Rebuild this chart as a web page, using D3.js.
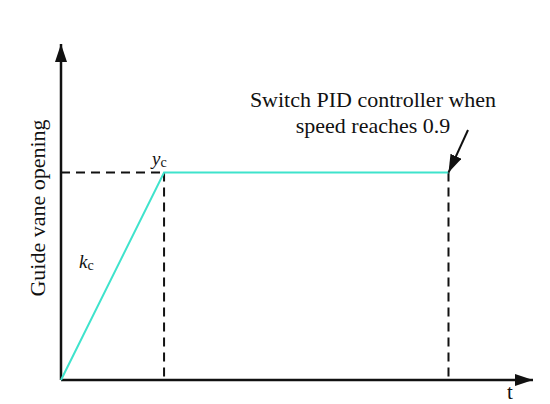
<!DOCTYPE html>
<html>
<head>
<meta charset="utf-8">
<script src="https://cdn.jsdelivr.net/npm/d3@7"></script>
<style>
  body { margin: 0; background: #fff; }
</style>
</head>
<body>
<svg id="chart" width="550" height="404"></svg>
<script>
// control curve: guide vane opening vs time (arbitrary units)
const tPoints = [0, 1, 3.76];
const openPoints = [0, 1, 1];
const switchT = 3.76;        // time when PID takes over
const tMax = 4.58, yMax = 1.62;

const width = 550, height = 404;
const origin = {x: 61, y: 380};

const x = d3.scaleLinear().domain([0, tMax]).range([origin.x, 533]);
const y = d3.scaleLinear().domain([0, yMax]).range([origin.y, 44]);

const svg = d3.select("#chart")
    .attr("font-family", "'Liberation Serif', 'Times New Roman', serif")
    .attr("fill", "#111");

svg.append("defs").append("marker")
    .attr("id", "head")
    .attr("viewBox", "0 0 18 12")
    .attr("refX", 18).attr("refY", 6)
    .attr("markerWidth", 18).attr("markerHeight", 12)
    .attr("markerUnits", "userSpaceOnUse")
    .attr("orient", "auto")
  .append("path")
    .attr("d", "M0,0 L18,6 L0,12 Z")
    .attr("fill", "#111");

// dashed guides
const dash = svg.append("g")
    .attr("stroke", "#111")
    .attr("stroke-width", 2)
    .attr("stroke-dasharray", "9,6")
    .attr("fill", "none");
dash.append("line")
    .attr("x1", x(0)).attr("x2", x(tPoints[1]))
    .attr("y1", y(openPoints[1])).attr("y2", y(openPoints[1]));
dash.append("line")
    .attr("x1", x(tPoints[1])).attr("x2", x(tPoints[1]))
    .attr("y1", y(openPoints[1])).attr("y2", y(0));
dash.append("line")
    .attr("x1", x(switchT)).attr("x2", x(switchT))
    .attr("y1", y(openPoints[2])).attr("y2", y(0));

// axes
svg.append("line")
    .attr("x1", x(0)).attr("y1", y(0))
    .attr("x2", x(0)).attr("y2", y(yMax))
    .attr("stroke", "#111").attr("stroke-width", 2.5)
    .attr("marker-end", "url(#head)");
svg.append("line")
    .attr("x1", x(0)).attr("y1", y(0))
    .attr("x2", x(tMax)).attr("y2", y(0))
    .attr("stroke", "#111").attr("stroke-width", 2.5)
    .attr("marker-end", "url(#head)");

// curve
const line = d3.line().x((d, i) => x(tPoints[i])).y(d => y(d));
svg.append("path")
    .datum(openPoints)
    .attr("d", line)
    .attr("fill", "none")
    .attr("stroke", "#3fe3cc")
    .attr("stroke-width", 2);

// labels
svg.append("text")
    .attr("transform", `translate(45,208) rotate(-90)`)
    .attr("text-anchor", "middle")
    .attr("font-size", 22)
    .text("Guide vane opening");

svg.append("text")
    .attr("x", x(tMax) - 26).attr("y", 399)
    .attr("font-size", 21)
    .text("t");

const yc = svg.append("text")
    .attr("x", x(tPoints[1]) - 12).attr("y", y(openPoints[1]) - 8)
    .attr("font-size", 19);
yc.append("tspan").attr("font-style", "italic").text("y");
yc.append("tspan").attr("font-size", 14).attr("dy", 2).text("c");

const kc = svg.append("text")
    .attr("x", 79).attr("y", 268)
    .attr("font-size", 19);
kc.append("tspan").attr("font-style", "italic").text("k");
kc.append("tspan").attr("font-size", 14).attr("dy", 2).text("c");

svg.append("text")
    .attr("x", 373).attr("y", 107)
    .attr("text-anchor", "middle")
    .attr("font-size", 22)
    .text("Switch PID controller when");
svg.append("text")
    .attr("x", 373).attr("y", 133)
    .attr("text-anchor", "middle")
    .attr("font-size", 22)
    .text("speed reaches 0.9");

// annotation arrow
svg.append("line")
    .attr("x1", 468).attr("y1", 130)
    .attr("x2", x(switchT)).attr("y2", y(openPoints[2]))
    .attr("stroke", "#111").attr("stroke-width", 2)
    .attr("marker-end", "url(#head)");
</script>
</body>
</html>
